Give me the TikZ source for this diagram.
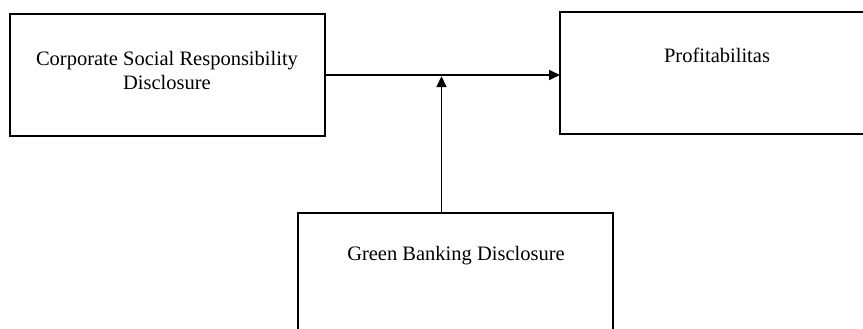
\documentclass[tikz,border=0pt]{standalone}
\usepackage{fontspec}
\setmainfont{Liberation Serif}
\usetikzlibrary{arrows.meta}
\begin{document}
\begin{tikzpicture}[x=1pt,y=-1pt,
  boxstyle/.style={draw=black,line width=1.8pt,fill=none,inner sep=0pt,outer sep=0pt},
  txt/.style={font=\fontsize{20.5}{24}\selectfont,align=center,inner sep=0pt,text=black},
  conn/.style={line width=1.7pt,-{Triangle[length=11pt,width=10pt]}}]
\clip (0,0) rectangle (863,329);
\fill[white] (0,0) rectangle (863,329);
% boxes
\node[boxstyle,minimum width=315pt,minimum height=122pt] (csr) at (167.5,75) {};
\node[boxstyle,minimum width=310pt,minimum height=122pt] (prof) at (715,73) {};
\node[boxstyle,minimum width=315pt,minimum height=130pt] (gb) at (455.5,278) {};
% texts
\node[txt] (t1) at (167,70) {Corporate Social Responsibility\\Disclosure};
\node[txt] (t2) at (717,55) {Profitabilitas};
\node[txt] (t3) at (456,256) {Green Banking Disclosure};
% connectors
\coordinate (m) at (441.5,75);
\draw[conn] (csr.east |- m) -- (prof.west |- m);
\draw[conn] (m |- gb.north) -- ([yshift=-1.2pt]m);
\end{tikzpicture}
\end{document}
